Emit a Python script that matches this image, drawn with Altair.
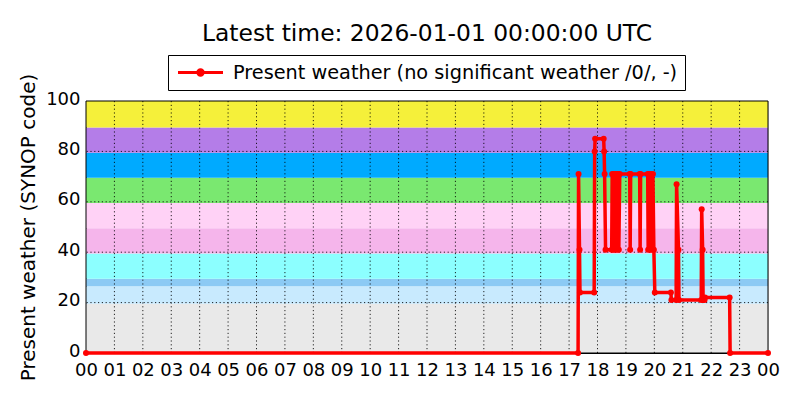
import json
import altair as alt
import pandas as pd

# ---- data -------------------------------------------------------------
# observation times (UTC, HH:MM) and SYNOP present-weather codes
times = ["00:00", "17:19", "17:20", "17:22", "17:23", "17:53", "17:54", "17:55",
         "18:13", "18:14", "18:15", "18:17", "18:30", "18:31", "18:33", "18:35",
         "18:37", "18:39", "18:41", "18:43", "18:45", "18:47", "19:08", "19:09",
         "19:10", "19:29", "19:30", "19:31", "19:46", "19:47", "19:49", "19:51",
         "19:53", "19:55", "19:57", "19:59", "20:01", "20:35", "20:36", "20:46",
         "20:47", "20:51", "20:52", "21:39", "21:40", "21:42", "21:43", "21:46",
         "21:47", "22:39", "22:40", "24:00"]
codes = [0, 0, 71, 41, 24, 24, 80, 85,
         85, 80, 71, 41, 41, 71, 41, 71,
         41, 71, 41, 71, 41, 71, 71, 41,
         71, 71, 41, 71, 71, 41, 71, 41,
         71, 41, 71, 41, 24, 24, 21, 21,
         67, 41, 21, 21, 57, 41, 21, 21,
         22, 22, 0, 0]

# background code bands
band_lo = [0, 19.5, 26.5, 29.5, 39.5, 49.5, 59.5, 69.5, 79.5, 89.5]
band_hi = [19.5, 26.5, 29.5, 39.5, 49.5, 59.5, 69.5, 79.5, 89.5, 100]
band_colors = ["#e9e9e9", "#c8eafe", "#8ccaf4", "#8cffff", "#f5b5eb",
               "#ffd2f6", "#7ae870", "#00aaff", "#b47de8", "#f5f03a"]

hour_labels = ["00", "01", "02", "03", "04", "05", "06", "07", "08", "09", "10",
               "11", "12", "13", "14", "15", "16", "17", "18", "19", "20", "21",
               "22", "23", "00"]
y_ticks = [0, 20, 40, 60, 80, 100]
y_grid = [20, 40, 60, 80]

LABEL = "Present weather (no significant weather /0/, -)"
TITLE = "Latest time: 2026-01-01 00:00:00 UTC"
YTITLE = "Present weather (SYNOP code)"
FONT = "DejaVu Sans"

# ---- tables -----------------------------------------------------------
def to_min(t):
    h, m = t.split(":")
    return int(h) * 60 + int(m)

df = pd.DataFrame({"minute": [to_min(t) for t in times], "code": codes,
                   "series": LABEL})
bands = pd.DataFrame({"code": band_lo, "hi": band_hi, "color": band_colors})
vgrid = pd.DataFrame({"minute": [i * 60 for i in range(1, len(hour_labels) - 1)]})
hgrid = pd.DataFrame({"code": y_grid})
frame = pd.DataFrame({"k": [0]})

W, H = 682, 252
xscale = alt.Scale(domain=[0, 1440], nice=False, zero=False)
yscale = alt.Scale(domain=[0, 100], nice=False)

label_expr = json.dumps(hour_labels).replace('"', "'") + "[round(datum.value/60)]"

x_axis = alt.Axis(values=[i * 60 for i in range(len(hour_labels))],
                  labelExpr=label_expr, labelFlush=False, labelOverlap=False,
                  ticks=False, grid=False, domainColor="black",
                  labelFontSize=18, labelFont=FONT, labelColor="black",
                  labelPadding=8, title=None)
y_axis = alt.Axis(values=y_ticks, ticks=False, grid=False, domainColor="black",
                  labelFontSize=18, labelFont=FONT, labelColor="black",
                  labelPadding=6, labelOffset=-2, labelFlush=False,
                  labelOverlap=False,
                  title=YTITLE, titleFontSize=20,
                  titleFont=FONT, titleFontWeight="normal", titleColor="black",
                  titlePadding=7)

X = alt.X("minute:Q", scale=xscale, axis=x_axis, title=None)
Y = alt.Y("code:Q", scale=yscale, axis=y_axis, title=YTITLE)

band_layer = alt.Chart(bands).mark_rect().encode(
    x=alt.value(0), x2=alt.value(W),
    y=Y, y2="hi:Q",
    color=alt.Color("color:N", scale=None),
)

grid_style = dict(color="black", strokeDash=[1.2, 2.6], strokeWidth=1, opacity=0.85)
vgrid_layer = alt.Chart(vgrid).mark_rule(**grid_style).encode(x=X)
hgrid_layer = alt.Chart(hgrid).mark_rule(**grid_style).encode(y=Y)

sym = "M-2.5,0H2.5M-0.3,0A0.3,0.3,0,1,1,0.3,0A0.3,0.3,0,1,1,-0.3,0Z"
color_enc = alt.Color("series:N", scale=alt.Scale(domain=[LABEL], range=["red"]),
                      legend=alt.Legend(title=None, orient="none", legendX=82,
                                        legendY=-46, strokeColor="black",
                                        fillColor="white", padding=7,
                                        cornerRadius=0, symbolType=sym,
                                        symbolSize=324, symbolStrokeWidth=3,
                                        symbolOffset=15,
                                        labelFontSize=19.3, labelFont=FONT,
                                        labelColor="black", labelOffset=22,
                                        labelLimit=0))

line_layer = alt.Chart(df).mark_line(strokeWidth=3.5).encode(x=X, y=Y, color=color_enc)
point_layer = alt.Chart(df).mark_circle(size=36, opacity=1).encode(x=X, y=Y, color=color_enc)

frame_layer = alt.Chart(frame).mark_rect(filled=False, stroke="black", strokeWidth=1).encode(
    x=alt.value(0), x2=alt.value(W), y=alt.value(0), y2=alt.value(H))

chart = alt.layer(band_layer, vgrid_layer, hgrid_layer, frame_layer,
                  line_layer, point_layer).properties(
    width=W, height=H,
    title=alt.Title(TITLE, fontSize=23.4, font=FONT, fontWeight="normal",
                    color="black", anchor="middle", frame="group", offset=8),
    autosize=alt.AutoSizeParams(type="none"),
    padding={"left": 78, "top": 93, "right": 24, "bottom": 39},
).configure_view(stroke="black", strokeWidth=1).configure(background="white")

chart.save("out.html", embed_options={"renderer": "svg", "actions": False})
